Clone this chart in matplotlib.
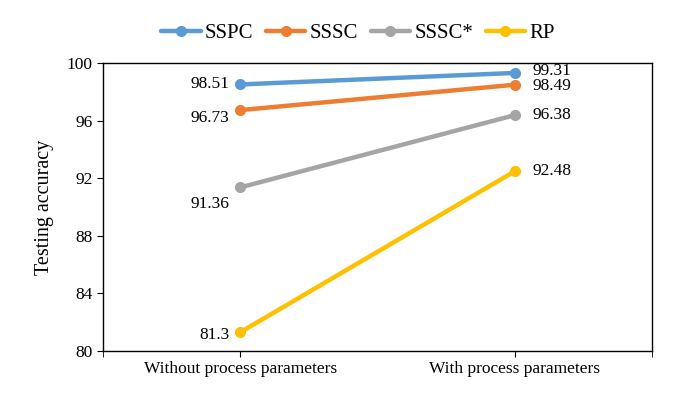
import matplotlib
matplotlib.use("Agg")
import matplotlib.pyplot as plt

categories = ["Without process parameters", "With process parameters"]
series_names = ["SSPC", "SSSC", "SSSC*", "RP"]
sspc = [98.51, 99.31]
sssc = [96.73, 98.49]
sssc_star = [91.36, 96.38]
rp = [81.3, 92.48]
y_ticks = [80, 84, 88, 92, 96, 100]

colors = ["#5B9BD5", "#ED7D31", "#A5A5A5", "#FFC000"]
values = [sspc, sssc, sssc_star, rp]

plt.rcParams['font.family'] = ['Liberation Serif', 'DejaVu Serif']

fig = plt.figure(figsize=(6.85, 4.07), dpi=100)
ax = fig.add_axes([103/685, 1 - 351/407, (652-103)/685, (351-63)/407])

x = list(range(len(categories)))
lines = []
for name, vals, c in zip(series_names, values, colors):
    l, = ax.plot(x, vals, color=c, lw=3.2, marker='o', ms=7, label=name, solid_capstyle='round')
    lines.append(l)

# labels
left_offsets = [(-8, 0), (-8, -6), (-8, -12), (-8, -2)]
right_offsets = [(13, 1.5), (13, -1), (13, 0), (13, 0)]
for vals, lo, ro in zip(values, left_offsets, right_offsets):
    ax.annotate(f"{vals[0]:g}", (0, vals[0]), xytext=lo, textcoords='offset points',
                ha='right', va='center', fontsize=12.5)
    ax.annotate(f"{vals[1]:g}", (1, vals[1]), xytext=ro, textcoords='offset points',
                ha='left', va='center', fontsize=12.5)

ax.set_xlim(-0.5, 1.5)
ax.set_ylim(80, 100)
ax.set_yticks(y_ticks)
ax.set_xticks(x)
ax.set_xticklabels(categories)
ax.set_xticks([-0.5, 1.5], minor=True)
ax.tick_params(axis='both', which='both', direction='out', labelsize=12.5)
ax.tick_params(axis='y', length=4)
ax.tick_params(axis='x', which='both', length=4)
ax.set_ylabel("Testing accuracy", fontsize=14.5, labelpad=9)
for s in ax.spines.values():
    s.set_linewidth(1.0)
    s.set_color('black')

fig.legend(handles=lines, loc='center', bbox_to_anchor=(358/685, 1 - 33/407), ncol=4,
           frameon=False, fontsize=15, handlelength=1.9, columnspacing=0.6, handletextpad=0.2)

fig.savefig("out.png", dpi=100)
